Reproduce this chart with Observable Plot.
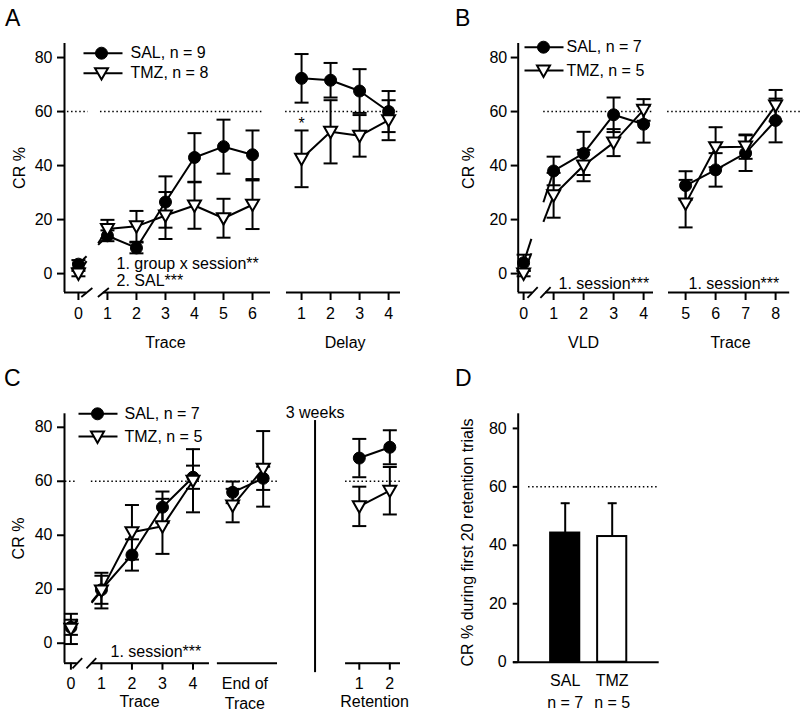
<!DOCTYPE html>
<html><head><meta charset="utf-8">
<script src="https://cdn.jsdelivr.net/npm/d3@7"></script>
<script src="https://cdn.jsdelivr.net/npm/@observablehq/plot@0.6"></script>
<style>
body{margin:0;background:#fff;}
#fig{position:relative;width:800px;height:718px;font-family:"Liberation Sans",Arial,sans-serif;overflow:hidden;background:#fff;}
.panel{position:absolute;}
.letter{position:absolute;font-size:23px;line-height:23px;color:#000;}
</style></head><body><div id="fig"></div>
<script>
// ---------- Panel A : Trace (0-6) and Delay (1-4) ----------
const aTraceSessions = [0, 1, 2, 3, 4, 5, 6];
const aTraceSAL      = [3.5, 14, 9.5, 26.5, 43, 47, 44];
const aTraceSALErr   = [1.5, 2, 2, 9.5, 9, 10, 9];
const aTraceTMZ      = [0, 16.5, 17.5, 21.5, 25.2, 20.5, 25.5];
const aTraceTMZErr   = [1, 3.4, 5.7, 8.7, 8.6, 7.2, 9];
const aDelaySessions = [1, 2, 3, 4];
const aDelaySAL      = [72.3, 71.6, 67.6, 60];
const aDelaySALErr   = [9, 6.4, 8.1, 7.6];
const aDelayTMZ      = [42.5, 52.5, 51, 56.8];
const aDelayTMZErr   = [10.5, 11.7, 7.7, 7.4];
const aLegend        = ["SAL, n = 9", "TMZ, n = 8"];
const aStats         = ["1. group x session**", "2. SAL***"];
const aAxisTitles    = ["Trace", "Delay"];
const aStar          = {session: 1, y: 55.5, text: "*"};

// ---------- Panel B : VLD (0-4) and Trace (5-8) ----------
const bVLDSessions   = [0, 1, 2, 3, 4];
const bVLDSAL        = [4, 38, 44.5, 58.8, 55.3];
const bVLDSALErr     = [3, 5.3, 8, 6.4, 6.8];
const bVLDTMZ        = [0, 29, 40, 48.5, 60.6];
const bVLDTMZErr     = [1, 8.3, 5.8, 5, 4];
const bTraceSessions = [5, 6, 7, 8];
const bTraceSAL      = [32.6, 38.4, 44.6, 56.7];
const bTraceSALErr   = [5.3, 6.2, 6.6, 8.1];
const bTraceTMZ      = [25.9, 46.8, 47, 62.2];
const bTraceTMZErr   = [8.8, 7.4, 4.5, 5.8];
const bLegend        = ["SAL, n = 7", "TMZ, n = 5"];
const bStats         = ["1. session***", "1. session***"];
const bAxisTitles    = ["VLD", "Trace"];

// ---------- Panel C : Trace (0-4), End of Trace, Retention ----------
const cTraceSessions = [0, 1, 2, 3, 4];
const cTraceSAL      = [5.9, 19.8, 32.7, 50.4, 61.5];
const cTraceSALErr   = [2.8, 5.2, 5.8, 5.8, 4.3];
const cTraceTMZ      = [5.3, 19.5, 41.1, 43.3, 60.2];
const cTraceTMZErr   = [5.6, 6.6, 10.1, 10.2, 11.7];
const cEndSessions   = [1, 2];
const cEndSAL        = [55.9, 61.1];
const cEndSALErr     = [4, 4.3];
const cEndTMZ        = [51, 64.6];
const cEndTMZErr     = [6.2, 14];
const cRetSessions   = [1, 2];
const cRetSAL        = [68.6, 72.6];
const cRetSALErr     = [7.1, 6.3];
const cRetTMZ        = [50.7, 56.5];
const cRetTMZErr     = [7.3, 8.8];
const cLegend        = ["SAL, n = 7", "TMZ, n = 5"];
const cStats         = ["1. session***"];
const cAxisTitles    = ["Trace", "End of\nTrace", "Retention"];
const cGapLabel      = "3 weeks";

// ---------- Panel D : bars ----------
const dGroups = ["SAL", "TMZ"];
const dMeans  = [44.2, 43];
const dErr    = [10.2, 11.4];
const dN      = ["n = 7", "n = 5"];
const dYLabel = "CR % during first 20 retention trials";

const yTicks = [0, 20, 40, 60, 80];
const criterion = 60;

// ---------- helpers ----------
const FONT = "Liberation Sans, Arial, sans-serif";
const triDown = {draw(ctx, size) { const r = Math.sqrt(size / Math.PI);
  ctx.moveTo(-r, -0.78 * r); ctx.lineTo(r, -0.78 * r); ctx.lineTo(0, 0.98 * r); ctx.closePath(); }};
const hbar = {draw(ctx, size) { const r = Math.sqrt(size / Math.PI); ctx.moveTo(-r, 0); ctx.lineTo(r, 0); }};

function series(group, sessions, means, errs, pos) {
  return sessions.map((s, i) => ({group, session: s, x: pos(s), y: means[i], lo: means[i] - errs[i], hi: means[i] + errs[i]}));
}
const K = {stroke: "black", strokeWidth: 2};
const T = {fontSize: 16, lineAnchor: "middle", fill: "black"};
function lineMarks(rows) {
  return [Plot.line(rows, {x: "x", y: "y", z: "group", ...K})];
}
function errMarks(rows, capR = 7) {
  return [
    Plot.ruleX(rows, {x: "x", y1: "lo", y2: "hi", ...K}),
    Plot.dot(rows, {x: "x", y: "lo", symbol: hbar, r: capR, fill: "none", ...K}),
    Plot.dot(rows, {x: "x", y: "hi", symbol: hbar, r: capR, fill: "none", ...K})
  ];
}
function dotMarks(rows) {
  return [
    Plot.dot(rows.filter(d => d.group === "SAL"), {x: "x", y: "y", r: 6, fill: "black", stroke: "black", strokeWidth: 1}),
    Plot.dot(rows.filter(d => d.group === "TMZ"), {x: "x", y: "y", symbol: triDown, r: 6.5, fill: "white", stroke: "black", strokeWidth: 2})
  ];
}
function breakLinks(rows, f0 = 0.28, f1 = 0.68) {
  const links = [];
  for (const g of ["SAL", "TMZ"]) {
    const a = rows.find(d => d.group === g && d.session === 0);
    const b = rows.find(d => d.group === g && d.session === 1);
    const at = f => ({x: a.x + (b.x - a.x) * f, y: a.y + (b.y - a.y) * f});
    const p0 = at(f0), p1 = at(f1);
    links.push({x1: a.x, y1: a.y, x2: p0.x, y2: p0.y});
    links.push({x1: p1.x, y1: p1.y, x2: b.x, y2: b.y});
  }
  return Plot.link(links, {x1: "x1", y1: "y1", x2: "x2", y2: "y2", ...K});
}
function axisSegments(segs, y) {
  return Plot.ruleY(segs, {y: () => y, x1: d => d[0], x2: d => d[1], ...K});
}
function slashes(centers, y, hx, hy) {
  return Plot.link(centers, {x1: d => d - hx, y1: () => y - hy, x2: d => d + hx, y2: () => y + hy, stroke: "black", strokeWidth: 1.8});
}
function dotted(segs) {
  return Plot.ruleY(segs, {y: () => criterion, x1: d => d[0], x2: d => d[1], stroke: "black", strokeWidth: 1.5, strokeDasharray: "1.5,2.6"});
}
function legend(labels, dxLine, dxMarker, dxText, dys) {
  const syms = [{symbol: "circle", r: 6, fill: "black", strokeWidth: 1}, {symbol: triDown, r: 6.5, fill: "white", strokeWidth: 2}];
  return labels.flatMap((lab, i) => [
    Plot.dot([lab], {frameAnchor: "top-left", dx: dxLine, dy: dys[i], symbol: hbar, r: 19.5, fill: "none", ...K}),
    Plot.dot([lab], {frameAnchor: "top-left", dx: dxMarker, dy: dys[i], stroke: "black", ...syms[i]}),
    Plot.text([lab], {frameAnchor: "top-left", dx: dxText, dy: dys[i], text: d => d, textAnchor: "start", ...T})
  ]);
}
function yLabel(dx, dy = 0, text = "CR %") {
  return Plot.text([text], {frameAnchor: "left", dx, dy, rotate: -90, text: d => d, textAnchor: "middle", ...T});
}
function yAxis(tickSize = 7, tickPadding = 5) {
  return Plot.axisY({ticks: yTicks, tickSize, tickPadding, strokeWidth: 2, label: null, fontSize: 16});
}
function xAxis(ticks, labels, tickSize, tickPadding) {
  const m = new Map(ticks.map((t, i) => [t, labels[i]]));
  return Plot.axisX({ticks, tickFormat: d => m.get(d), tickSize, tickPadding, strokeWidth: 2, label: null, fontSize: 16});
}
function note(text, anchor, dx, dy, extra = {}) {
  return Plot.text([text], {frameAnchor: anchor, dx, dy, text: d => d, ...T, ...extra});
}
const style = {fontFamily: FONT, fontSize: "16px", color: "black", background: "transparent", overflow: "visible"};
const fig = document.getElementById("fig");
function place(svg, left, top) {
  const div = document.createElement("div");
  div.className = "panel"; div.style.left = left + "px"; div.style.top = top + "px";
  div.appendChild(svg); fig.appendChild(div);
}
function letter(t, left, top) {
  const d = document.createElement("div");
  d.className = "letter"; d.textContent = t; d.style.left = left + "px"; d.style.top = top + "px";
  fig.appendChild(d);
}

// ---------- Panel A ----------
{
  const posT = s => s, posD = d => d + 6.69;
  const tr = [...series("SAL", aTraceSessions, aTraceSAL, aTraceSALErr, posT), ...series("TMZ", aTraceSessions, aTraceTMZ, aTraceTMZErr, posT)];
  const de = [...series("SAL", aDelaySessions, aDelaySAL, aDelaySALErr, posD), ...series("TMZ", aDelaySessions, aDelayTMZ, aDelayTMZErr, posD)];
  const ticks = [...aTraceSessions.map(posT), ...aDelaySessions.map(posD)];
  const labels = [...aTraceSessions, ...aDelaySessions].map(String);
  const svg = Plot.plot({
    width: 400, height: 360, marginLeft: 64, marginRight: 0, marginTop: 43, marginBottom: 68,
    x: {domain: [-0.48, 11.1]}, y: {domain: [-7, 85.2]}, style,
    marks: [
      dotted([[-0.52, 0.34], [0.76, 6.38], [7.14, 11.1]]),
      Plot.ruleX([-0.48], K),
      axisSegments([[-0.48, 0.29], [0.86, 6.62], [7.17, 11.1]], -7),
      slashes([0.29, 0.86], -7, 0.19, 1.67),
      yAxis(7, 5),
      xAxis(ticks, labels, 8, 7),
      ...lineMarks(tr.filter(d => d.session >= 1)), breakLinks(tr), ...lineMarks(de),
      ...errMarks(tr), ...errMarks(de),
      ...dotMarks(tr), ...dotMarks(de),
      Plot.text([aStar], {x: d => posD(d.session), y: "y", text: "text", ...T}),
      note(aStats[0], "bottom-left", 52, -29, {textAnchor: "start"}),
      note(aStats[1], "bottom-left", 52, -12, {textAnchor: "start"}),
      Plot.text([aAxisTitles[0]], {x: d3.mean(aTraceSessions.map(posT)), frameAnchor: "bottom", dy: 50, text: d => d, ...T}),
      Plot.text([aAxisTitles[1]], {x: d3.mean(aDelaySessions.map(posD)), frameAnchor: "bottom", dy: 50, text: d => d, ...T}),
      ...legend(aLegend, 38.5, 37, 66, [9.7, 29.7]),
      yLabel(-45)
    ]
  });
  place(svg, 0, 0);
}

// ---------- Panel B ----------
{
  const posV = s => s, posT = s => s + 0.4;
  const v = [...series("SAL", bVLDSessions, bVLDSAL, bVLDSALErr, posV), ...series("TMZ", bVLDSessions, bVLDTMZ, bVLDTMZErr, posV)];
  const t = [...series("SAL", bTraceSessions, bTraceSAL, bTraceSALErr, posT), ...series("TMZ", bTraceSessions, bTraceTMZ, bTraceTMZErr, posT)];
  const ticks = [...bVLDSessions.map(posV), ...bTraceSessions.map(posT)];
  const labels = [...bVLDSessions, ...bTraceSessions].map(String);
  const svg = Plot.plot({
    width: 400, height: 360, marginLeft: 117.7, marginRight: 0, marginTop: 43, marginBottom: 68,
    x: {domain: [-0.18, 9.23]}, y: {domain: [-7, 85.2]}, style,
    marks: [
      dotted([[0.67, 4.33], [4.8, 9.23]]),
      Plot.ruleX([-0.18], K),
      axisSegments([[-0.18, 0.3], [0.73, 4.33], [4.83, 8.87]], -7),
      slashes([0.3, 0.73], -7, 0.17, 2),
      yAxis(7, 4),
      xAxis(ticks, labels, 8, 7),
      ...lineMarks(v.filter(d => d.session >= 1)), breakLinks(v, 0.26, 0.66), ...lineMarks(t),
      ...errMarks(v), ...errMarks(t),
      ...dotMarks(v), ...dotMarks(t),
      note(bStats[0], "bottom-left", 40.3, -9, {textAnchor: "start"}),
      note(bStats[1], "bottom-left", 170.3, -9, {textAnchor: "start"}),
      Plot.text([bAxisTitles[0]], {x: d3.mean(bVLDSessions.map(posV)), frameAnchor: "bottom", dy: 50, text: d => d, ...T}),
      Plot.text([bAxisTitles[1]], {x: d3.mean(bTraceSessions.map(posT)), frameAnchor: "bottom", dy: 50, text: d => d, ...T}),
      ...legend(bLegend, 25.8, 25.3, 48.3, [3.7, 27]),
      yLabel(-49.7)
    ]
  });
  place(svg, 400, 0);
}

// ---------- Panel C ----------
{
  const posT = s => s, posE = e => e + 4.3, posR = r => r + 8.45, sep = 8;
  const tr = [...series("SAL", cTraceSessions, cTraceSAL, cTraceSALErr, posT), ...series("TMZ", cTraceSessions, cTraceTMZ, cTraceTMZErr, posT)];
  const en = [...series("SAL", cEndSessions, cEndSAL, cEndSALErr, posE), ...series("TMZ", cEndSessions, cEndTMZ, cEndTMZErr, posE)];
  const re = [...series("SAL", cRetSessions, cRetSAL, cRetSALErr, posR), ...series("TMZ", cRetSessions, cRetTMZ, cRetTMZErr, posR)];
  const ticks = [...cTraceSessions.map(posT), ...cRetSessions.map(posR)];
  const labels = [...cTraceSessions, ...cRetSessions].map(String);
  const svg = Plot.plot({
    width: 400, height: 358, marginLeft: 64, marginRight: 0, marginTop: 53.3, marginBottom: 55.3,
    x: {domain: [-0.21, 10.8]}, y: {domain: [-7.4, 85]}, style,
    marks: [
      dotted([[-0.18, 0.21], [0.67, 6.77], [9.0, 10.8]]),
      Plot.ruleX([-0.21], K),
      axisSegments([[-0.21, 0.21], [0.67, 4.54], [4.8, 6.77], [9.0, 10.8]], -7.4),
      slashes([0.21, 0.67], -7.4, 0.16, 1.9),
      Plot.ruleX([sep], {y1: -10.9, y2: 82.5, ...K}),
      Plot.text([cGapLabel], {x: sep, frameAnchor: "top", dy: -1.3, text: d => d, ...T}),
      yAxis(7, 5),
      xAxis(ticks, labels, 7, 7),
      ...lineMarks(tr.filter(d => d.session >= 1)), breakLinks(tr, 0.22, 0.68), ...lineMarks(en), ...lineMarks(re),
      ...errMarks(tr), ...errMarks(en), ...errMarks(re),
      ...dotMarks(tr), ...dotMarks(en), ...dotMarks(re),
      note(cStats[0], "bottom-left", 46, -11.7, {textAnchor: "start"}),
      Plot.text([cAxisTitles[0]], {x: 2.25, frameAnchor: "bottom", dy: 38.5, text: d => d, ...T}),
      Plot.text([cAxisTitles[1]], {x: d3.mean(cEndSessions.map(posE)) - 0.1, frameAnchor: "bottom", dy: 29.5, text: d => d, ...T, lineHeight: 1.25}),
      Plot.text([cAxisTitles[2]], {x: d3.mean(cRetSessions.map(posR)), frameAnchor: "bottom", dy: 38.5, text: d => d, ...T}),
      ...legend(cLegend, 33.5, 33, 60, [0, 22.7]),
      yLabel(-45.5)
    ]
  });
  place(svg, 0, 360);
}

// ---------- Panel D ----------
{
  const pos = i => i + 1;
  const rows = dGroups.map((g, i) => ({group: g, x: pos(i), y: dMeans[i], hi: dMeans[i] + dErr[i], n: dN[i]}));
  const half = 0.31;
  const svg = Plot.plot({
    width: 400, height: 358, marginLeft: 117.7, marginRight: 141.3, marginTop: 53.3, marginBottom: 56.3,
    x: {domain: [0, 3]}, y: {domain: [0, 85]}, style,
    marks: [
      Plot.ruleY([criterion], {x1: () => 0.22, x2: () => 3, stroke: "black", strokeWidth: 1.5, strokeDasharray: "1.5,2.6"}),
      Plot.ruleX(rows, {x: "x", y1: "y", y2: "hi", ...K}),
      Plot.dot(rows, {x: "x", y: "hi", symbol: hbar, r: 4.5, fill: "none", ...K}),
      Plot.rectY(rows, {x1: d => d.x - half, x2: d => d.x + half, y: "y", fill: (d, i) => i === 0 ? "black" : "white", stroke: "black", strokeWidth: 2}),
      Plot.ruleX([0], K),
      Plot.ruleY([0], {x1: () => -0.1, x2: () => 3, ...K}),
      yAxis(5, 6.5),
      xAxis(rows.map(d => d.x), dGroups, 0, 12),
      Plot.text(rows, {x: "x", frameAnchor: "bottom", dy: 41, text: "n", ...T}),
      yLabel(-50.7, 4.5, dYLabel)
    ]
  });
  place(svg, 400, 360);
}

letter("A", 5, 7); letter("B", 455, 7); letter("C", 4, 367); letter("D", 455, 367);
</script></body></html>
